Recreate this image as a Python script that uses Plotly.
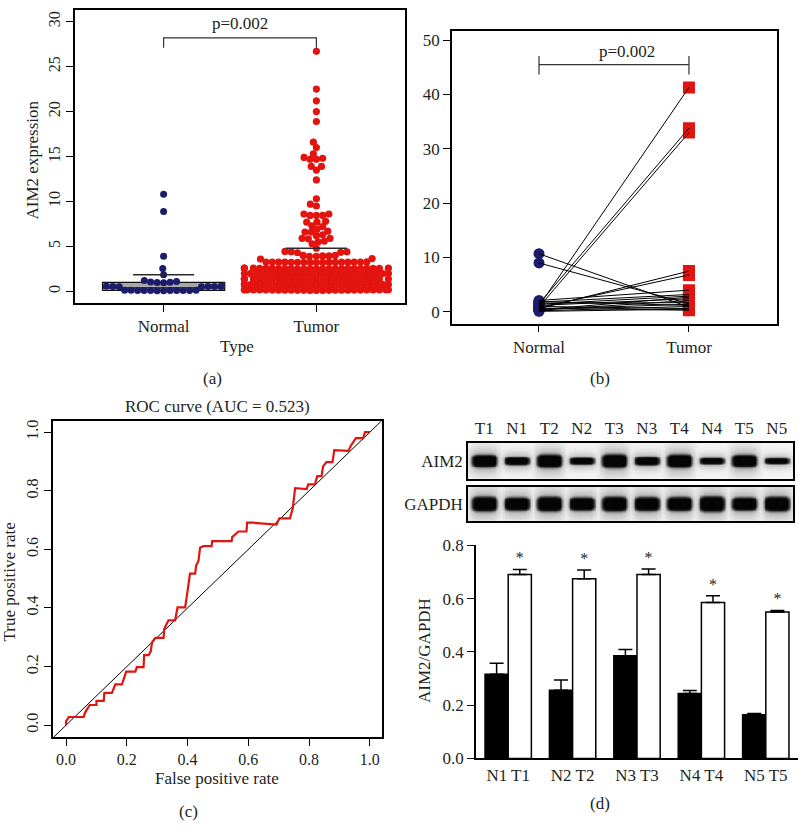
import numpy as np
import plotly.graph_objects as go

W, H = 799, 829
FONT = "Liberation Serif"
INK = "#231f20"
NAVY = "#1c1c6a"
RED = "#e3140f"

# --- (a) AIM2 expression, all samples ---
group_names = ["Normal", "Tumor"]
normal_expr = [0.08, 0.10, 0.12, 0.09, 0.11, 0.13, 0.10, 0.07, 0.12, 0.10, 0.11, 0.09,
               0.52, 0.55, 0.57, 0.54, 0.56, 0.53, 0.55, 0.58,
               0.98, 1.02, 1.05, 0.97, 1.10, 1.22, 1.85, 2.55, 3.9, 8.9, 10.8]
tumor_low = [0.10, 0.12, 0.14, 0.16, 0.18, 0.11, 0.13, 0.15, 0.17, 0.19, 0.12, 0.14, 0.16,
             0.18, 0.13, 0.15, 0.17, 0.11, 0.14, 0.16, 0.18, 0.12, 0.15, 0.17, 0.13, 0.16,
             0.70, 0.72, 0.74, 0.76, 0.78, 0.71, 0.73, 0.75, 0.77, 0.79, 0.72, 0.74, 0.76,
             0.78, 0.73, 0.75, 0.77, 0.71, 0.74, 0.76, 0.78, 0.72, 0.75, 0.77, 0.73,
             1.30, 1.32, 1.34, 1.36, 1.38, 1.31, 1.33, 1.35, 1.37, 1.39, 1.32, 1.34, 1.36,
             1.38, 1.33, 1.35, 1.37, 1.31, 1.34, 1.36, 1.38, 1.32, 1.35, 1.37, 1.33,
             1.90, 1.92, 1.94, 1.96, 1.98, 1.91, 1.93, 1.95, 1.97, 1.99, 1.92, 1.94, 1.96,
             1.98, 1.93, 1.95, 1.97, 1.91, 1.94, 1.96, 1.98, 1.92, 1.95, 1.97,
             2.50, 2.52, 2.54, 2.56, 2.58, 2.51, 2.53, 2.55, 2.57, 2.59, 2.52, 2.54, 2.56,
             2.58, 2.53, 2.55, 2.57, 2.51, 2.54, 2.56, 2.58, 2.52, 2.55, 2.57,
             3.22, 3.25, 3.27, 3.24, 3.26, 3.23, 3.25, 3.28, 3.21, 3.26, 3.24, 3.27, 3.22,
             3.25, 3.23, 3.26, 3.24]
tumor_high = [26.7, 22.5, 21.2, 20.0, 18.9, 16.6, 16.0, 15.3, 14.9, 14.8, 14.7, 14.7, 13.9, 13.9,
              13.5, 12.4, 10.3, 9.7, 9.5, 8.6, 8.6, 8.45, 8.45, 8.45, 7.8, 7.7, 7.7, 7.3, 7.2, 6.9,
              6.7, 6.6, 6.6, 6.3, 6.2, 5.9, 5.9, 5.85, 5.6, 5.5, 5.3, 4.8, 4.45, 4.4, 4.4, 4.35, 4.3,
              4.0, 4.0, 3.95, 3.95, 3.9, 3.9, 3.65, 3.6]
group_line = [1.85, 4.8]          # horizontal summary line per group
normal_box = [0.1, 0.4, 1.0]      # q1, median, q3
tumor_box = [0.7, 1.5, 2.0]
p_text = "p=0.002"

# --- (b) paired samples ---
paired_normal = [10.7, 9.0, 1.1, 1.5, 0.9, 0.6, 0.8, 2.1, 1.8, 0.4, 1.2, 0.3, 1.6, 0.5, 0.2, 1.0, 0.7, 1.4, 0.1, 1.9]
paired_tumor = [0.9, 1.5, 41.3, 33.8, 33.0, 7.5, 6.8, 4.0, 3.2, 2.7, 2.4, 2.1, 1.7, 1.4, 1.0, 0.6, 0.3, 2.9, 0.5, 1.2]

# --- (c) ROC ---
fpr = [0, 0, 0.009, 0.058, 0.063, 0.078, 0.10, 0.10, 0.124, 0.126,
       0.151, 0.157, 0.162, 0.184, 0.19, 0.198, 0.228, 0.233, 0.255, 0.257,
       0.272, 0.279, 0.283, 0.294, 0.321, 0.323, 0.337, 0.359, 0.367, 0.392,
       0.398, 0.403, 0.408, 0.425, 0.428, 0.436, 0.441, 0.452, 0.479, 0.481,
       0.545, 0.547, 0.567, 0.594, 0.596, 0.616, 0.693, 0.702, 0.737, 0.746,
       0.75, 0.754, 0.792, 0.797, 0.819, 0.827, 0.841, 0.846, 0.857, 0.877,
       0.883, 0.929, 0.937, 0.954, 0.978, 0.984, 1.0]
tpr = [0, 0.013, 0.028, 0.028, 0.044, 0.069, 0.069, 0.083, 0.083, 0.11,
       0.11, 0.128, 0.139, 0.139, 0.161, 0.183, 0.183, 0.198, 0.198, 0.239,
       0.239, 0.253, 0.283, 0.298, 0.298, 0.328, 0.358, 0.358, 0.402, 0.402,
       0.444, 0.478, 0.517, 0.517, 0.544, 0.561, 0.606, 0.611, 0.611, 0.628,
       0.628, 0.642, 0.661, 0.661, 0.691, 0.691, 0.685, 0.706, 0.706, 0.739,
       0.783, 0.809, 0.806, 0.822, 0.822, 0.85, 0.85, 0.883, 0.898, 0.898,
       0.939, 0.936, 0.953, 0.98, 0.98, 1.0, 1.0]
auc = 0.523

# --- (d) western blot + quantification ---
lanes = ["T1", "N1", "T2", "N2", "T3", "N3", "T4", "N4", "T5", "N5"]
aim2_band = [1.0, 0.92, 1.0, 0.88, 1.0, 0.92, 1.0, 0.85, 1.0, 0.85]
aim2_thick = [0.3, 0.2, 0.32, 0.18, 0.33, 0.21, 0.32, 0.17, 0.3, 0.16]
gapdh_band = [1.0, 1.0, 1.0, 1.0, 1.0, 1.0, 1.0, 1.0, 1.0, 1.0]
gapdh_thick = [0.38, 0.34, 0.38, 0.34, 0.38, 0.36, 0.36, 0.4, 0.34, 0.38]
pair_labels = ["N1 T1", "N2 T2", "N3 T3", "N4 T4", "N5 T5"]
normal_ratio = [0.316, 0.256, 0.386, 0.244, 0.164]
normal_err = [0.041, 0.039, 0.023, 0.011, 0.005]
tumor_ratio = [0.691, 0.675, 0.691, 0.586, 0.55]
tumor_err = [0.019, 0.033, 0.02, 0.025, 0.006]
sig_marks = ["*", "*", "*", "*", "*"]

# panel boxes in pixels (x0, y0, x1, y1)
BOX_A = (75, 1, 405, 301)
BOX_B = (452, 23, 777, 322)
BOX_C = (53, 422, 382, 745)
BOX_D = (476, 549, 798, 767)
BLOT1 = (468, 444, 793, 481)
BLOT2 = (468, 489, 793, 524)

RANGE_AX = [0.42, 2.58]
RANGE_AY = [-1.3, 31.3]


def xdom(b):
    return [b[0] / W, b[2] / W]


def ydom(b):
    return [1 - b[3] / H, 1 - b[1] / H]


def swarm(values, diam, ppx, ppy, half_w):
    # simple beeswarm: place points low to high, nearest free spot to centre
    vals = np.asarray(values, dtype=float)
    out = np.zeros(len(vals))
    px, py = [], []
    for i in np.argsort(vals, kind="stable"):
        y = vals[i] * ppy
        ax, ay = np.array(px), np.array(py)
        if len(ax):
            m = np.abs(ay - y) < diam
            nx, ny = ax[m], ay[m]
        else:
            nx, ny = ax, ay
        dx = np.sqrt(np.maximum(diam ** 2 - (ny - y) ** 2, 0))
        cands = np.concatenate([[0.0], nx + dx, nx - dx])
        cands = cands[np.lexsort((cands, np.abs(cands)))]
        pick = cands[-1]
        for c in cands:
            if np.all((nx - c) ** 2 + (ny - y) ** 2 >= diam ** 2 - 1e-6):
                pick = c
                break
        pick = float(np.clip(pick, -half_w, half_w))
        px.append(pick)
        py.append(y)
        out[i] = pick / ppx
    return out


fig = go.Figure()

# ---------- (a) ----------
ppx_a = (BOX_A[2] - BOX_A[0]) / (RANGE_AX[1] - RANGE_AX[0])
ppy_a = (BOX_A[3] - BOX_A[1]) / (RANGE_AY[1] - RANGE_AY[0])
tumor_expr = tumor_low + tumor_high

fig.add_trace(go.Box(x=[1], q1=[normal_box[0]], median=[normal_box[1]], q3=[normal_box[2]],
                     lowerfence=[normal_box[0]], upperfence=[normal_box[2]], width=0.8,
                     fillcolor="#a9a9a9", line=dict(color="#111111", width=1.2),
                     xaxis="x", yaxis="y", hoverinfo="skip"))
fig.add_trace(go.Box(x=[2], q1=[tumor_box[0]], median=[tumor_box[1]], q3=[tumor_box[2]],
                     lowerfence=[tumor_box[0]], upperfence=[tumor_box[2]], width=0.55,
                     fillcolor="rgba(0,0,0,0)", line=dict(color="#86b8c4", width=1),
                     xaxis="x", yaxis="y", hoverinfo="skip"))

off_n = swarm(normal_expr, 6.5, ppx_a, ppy_a, 58)
off_t = swarm(tumor_expr, 6.3, ppx_a, ppy_a, 72)
fig.add_trace(go.Scatter(x=1 + off_n, y=normal_expr, mode="markers",
                         marker=dict(color=NAVY, size=7), xaxis="x", yaxis="y"))
fig.add_trace(go.Scatter(x=2 + off_t, y=tumor_expr, mode="markers",
                         marker=dict(color=RED, size=7.2), xaxis="x", yaxis="y"))
for k, v in enumerate(group_line):
    fig.add_trace(go.Scatter(x=[k + 0.8, k + 1.2], y=[v, v], mode="lines",
                             line=dict(color="#2b2b2b", width=1.6), xaxis="x", yaxis="y"))
top_a = max(tumor_expr) + 1.5
fig.add_trace(go.Scatter(x=[1, 1, 2, 2], y=[top_a - 1.1, top_a, top_a, top_a - 1.1], mode="lines",
                         line=dict(color="#333333", width=1.2), xaxis="x", yaxis="y"))

# ---------- (b) ----------
lx, ly = [], []
for n, t in zip(paired_normal, paired_tumor):
    lx += [1, 2, None]
    ly += [n, t, None]
fig.add_trace(go.Scatter(x=[1] * len(paired_normal), y=paired_normal, mode="markers",
                         marker=dict(color=NAVY, size=11), xaxis="x2", yaxis="y2"))
fig.add_trace(go.Scatter(x=[2] * len(paired_tumor), y=paired_tumor, mode="markers",
                         marker=dict(color=RED, size=12, symbol="square"), xaxis="x2", yaxis="y2"))
fig.add_trace(go.Scatter(x=lx, y=ly, mode="lines", line=dict(color="black", width=1),
                         xaxis="x2", yaxis="y2"))
top_b = max(paired_tumor) + 4.2
fig.add_trace(go.Scatter(x=[1, 1, None, 1, 2, None, 2, 2],
                         y=[top_b - 1.8, top_b + 1.6, None, top_b, top_b, None, top_b - 1.8, top_b + 1.6],
                         mode="lines", line=dict(color="#333333", width=1.2), xaxis="x2", yaxis="y2"))

# ---------- (c) ----------
fig.add_trace(go.Scatter(x=[-0.05, 1.05], y=[-0.05, 1.05], mode="lines",
                         line=dict(color="black", width=1), xaxis="x3", yaxis="y3"))
fig.add_trace(go.Scatter(x=fpr, y=tpr, mode="lines", line=dict(color=RED, width=2.2),
                         xaxis="x3", yaxis="y3"))

# ---------- (d) blot ----------
gx = np.linspace(-0.5, len(lanes) - 0.5, 401)
gy = np.linspace(-1, 1, 81)
XX, YY = np.meshgrid(gx, gy)


def blot(bands, thick):
    z = np.zeros_like(XX)
    for i, (b, h) in enumerate(zip(bands, thick)):
        dx, dy = XX - i, YY
        core = b * np.exp(-(dx / 0.37) ** 6) * np.exp(-(dy / h) ** 4)
        halo = 0.42 * b * np.exp(-(dx / 0.46) ** 4) * np.exp(-(dy / (h * 2.4)) ** 2)
        z = np.maximum(z, core + halo)
    return np.clip(z, 0, 1)


blot_scale = [[0, "#f4f4f4"], [0.25, "#c4c4c4"], [0.55, "#4a4a4a"], [0.85, "#101010"], [1, "#050505"]]
fig.add_trace(go.Heatmap(x=gx, y=gy, z=blot(aim2_band, aim2_thick), colorscale=blot_scale,
                         zmin=0, zmax=1, showscale=False, zsmooth="best", hoverinfo="skip",
                         xaxis="x5", yaxis="y5"))
fig.add_trace(go.Heatmap(x=gx, y=gy, z=blot(gapdh_band, gapdh_thick), colorscale=blot_scale,
                         zmin=0, zmax=1, showscale=False, zsmooth="best", hoverinfo="skip",
                         xaxis="x6", yaxis="y6"))

# ---------- (d) bars ----------
gpos = list(range(len(pair_labels)))
fig.add_trace(go.Bar(x=gpos, y=normal_ratio, marker=dict(color="black", line=dict(color="black", width=1.5)),
                     error_y=dict(type="data", array=normal_err, arrayminus=[0] * 5, symmetric=False,
                                  width=7, thickness=1.5, color="black"),
                     xaxis="x4", yaxis="y4"))
fig.add_trace(go.Bar(x=gpos, y=tumor_ratio, marker=dict(color="white", line=dict(color="black", width=1.5)),
                     error_y=dict(type="data", array=tumor_err, arrayminus=[0] * 5, symmetric=False,
                                  width=7, thickness=1.5, color="black"),
                     xaxis="x4", yaxis="y4"))
fig.add_trace(go.Scatter(x=[g + 0.18 for g in gpos],
                         y=[v + e + 0.008 for v, e in zip(tumor_ratio, tumor_err)],
                         mode="text", text=sig_marks, textposition="top center",
                         textfont=dict(family=FONT, size=16, color=INK), xaxis="x4", yaxis="y4"))

# ---------- layout ----------
tick = dict(family=FONT, size=16, color=INK)
boxed = dict(showline=True, mirror=True, linecolor="black", linewidth=1.5, showgrid=False,
             zeroline=False, ticks="outside", ticklen=7, tickwidth=1.3, tickcolor="black", tickfont=tick)

annots = []


def note(text, x, y, angle=0, size=17, xanchor="center"):
    annots.append(dict(text=text, x=x / W, y=1 - y / H, xref="paper", yref="paper", showarrow=False,
                       textangle=angle, xanchor=xanchor, yanchor="middle",
                       font=dict(family=FONT, size=size, color=INK)))


note("AIM2 expression", 32, 155, angle=-90)
note("Type", 237, 345)
note(p_text, 240, 15)
note(p_text, 627, 43)
note(f"ROC curve (AUC = {auc})", 217, 407)
note("False positive rate", 217, 788)
note("True positive rate", 10, 587, angle=-90)
note("AIM2/GAPDH", 425, 657, angle=-90)
note("(a)", 212, 378)
note("(b)", 600, 378)
note("(c)", 188, 821)
note("(d)", 600, 813)

fig.update_layout(
    width=W, height=H, margin=dict(l=0, r=0, t=0, b=0),
    paper_bgcolor="white", plot_bgcolor="white", showlegend=False,
    font=dict(family=FONT, color=INK),
    barmode="group", bargap=0.28, bargroupgap=0,
    annotations=annots,
    xaxis=dict(boxed, domain=xdom(BOX_A), range=RANGE_AX, tickvals=[1, 2], ticktext=group_names,
               tickfont=dict(tick, size=17), anchor="y"),
    yaxis=dict(boxed, domain=ydom(BOX_A), range=RANGE_AY, tickvals=list(range(0, 31, 5)),
               tickangle=-90, anchor="x"),
    xaxis2=dict(boxed, domain=xdom(BOX_B), range=[0.42, 2.587], tickvals=[1, 2], ticktext=group_names,
                tickfont=dict(tick, size=17), anchor="y2"),
    yaxis2=dict(boxed, domain=ydom(BOX_B), range=[-2.16, 51.6], tickvals=list(range(0, 51, 10)),
                tickfont=dict(tick, size=17), anchor="x2"),
    xaxis3=dict(boxed, domain=xdom(BOX_C), range=[-0.043, 1.04], tickvals=[0, 0.2, 0.4, 0.6, 0.8, 1.0],
                tickformat=".1f", anchor="y3"),
    yaxis3=dict(boxed, domain=ydom(BOX_C), range=[-0.04, 1.037], tickvals=[0, 0.2, 0.4, 0.6, 0.8, 1.0],
                tickformat=".1f", tickangle=-90, anchor="x3"),
    xaxis4=dict(domain=xdom(BOX_D), range=[-0.5, 4.5], tickvals=gpos, ticktext=pair_labels,
                showline=True, linecolor="black", linewidth=1.5, ticks="", showgrid=False,
                zeroline=False, tickfont=dict(tick, size=17), anchor="y4"),
    yaxis4=dict(domain=ydom(BOX_D), range=[0, 0.8], tickvals=[0, 0.2, 0.4, 0.6, 0.8], tickformat=".1f",
                showline=True, linecolor="black", linewidth=1.5, ticks="outside", ticklen=7,
                tickwidth=1.3, tickcolor="black", showgrid=False, zeroline=False,
                tickfont=dict(tick, size=17), anchor="x4"),
    xaxis5=dict(domain=xdom(BLOT1), range=[-0.5, 9.5], tickvals=list(range(10)), ticktext=lanes,
                side="top", showline=True, mirror=True, linecolor="black", linewidth=1.5,
                ticks="", showgrid=False, zeroline=False, tickfont=dict(tick, size=17), anchor="y5"),
    yaxis5=dict(domain=ydom(BLOT1), range=[-1, 1], tickvals=[0], ticktext=["AIM2"],
                showline=True, mirror=True, linecolor="black", linewidth=1.5, ticks="",
                showgrid=False, zeroline=False, tickfont=dict(tick, size=17), anchor="x5"),
    xaxis6=dict(domain=xdom(BLOT2), range=[-0.5, 9.5], showticklabels=False,
                showline=True, mirror=True, linecolor="black", linewidth=1.5,
                ticks="", showgrid=False, zeroline=False, anchor="y6"),
    yaxis6=dict(domain=ydom(BLOT2), range=[-1, 1], tickvals=[0], ticktext=["GAPDH"],
                showline=True, mirror=True, linecolor="black", linewidth=1.5, ticks="",
                showgrid=False, zeroline=False, tickfont=dict(tick, size=17), anchor="x6"),
)

# the page body has a default 8px margin; drop it so the figure fills the window
fig.write_html("out.html", config={"displayModeBar": False},
               post_script="document.body.style.margin='0px';")
